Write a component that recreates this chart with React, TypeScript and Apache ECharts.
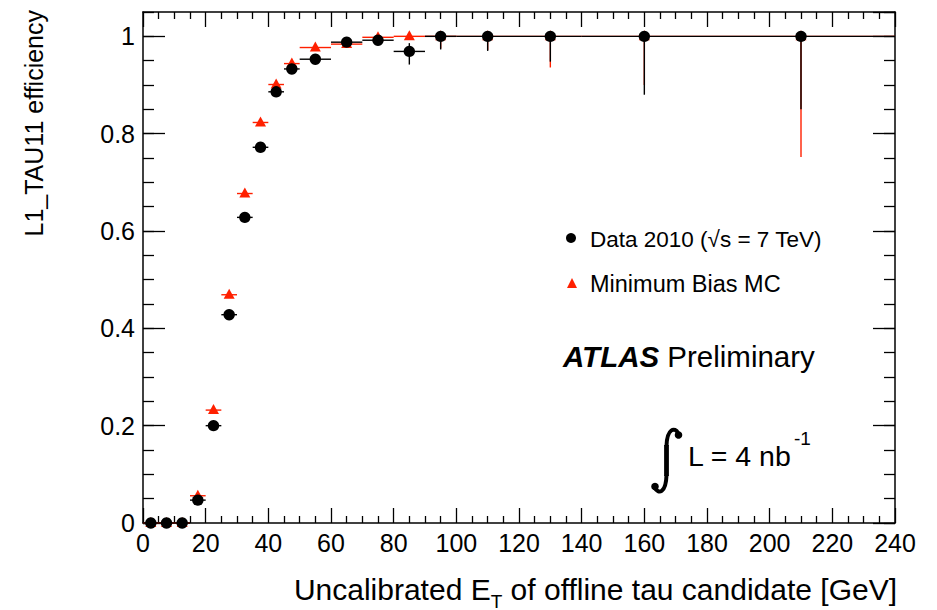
import React, { useEffect, useRef } from "react";
import * as echarts from "echarts";

// Bin edges (GeV)
const binLow = [0, 5, 10, 15, 20, 25, 30, 35, 40, 45, 50, 60, 70, 80, 90, 100, 120, 140, 180];
const binHigh = [5, 10, 15, 20, 25, 30, 35, 40, 45, 50, 60, 70, 80, 90, 100, 120, 140, 180, 240];

// Data 2010
const dataEff = [0, 0, 0, 0.047, 0.2, 0.428, 0.628, 0.772, 0.886, 0.933, 0.953, 0.988, 0.992, 0.969, 1, 1, 1, 1, 1];
const dataErrLow = [0, 0, 0, 0.008, 0.008, 0.01, 0.01, 0.009, 0.008, 0.007, 0.007, 0.005, 0.01, 0.027, 0.027, 0.03, 0.052, 0.12, 0.15];
const dataErrHigh = [0, 0, 0, 0.008, 0.008, 0.01, 0.01, 0.008, 0.007, 0.006, 0.006, 0.004, 0.006, 0.017, 0, 0, 0, 0, 0];

// Minimum Bias MC
const mcEff = [0, 0, 0, 0.056, 0.232, 0.469, 0.677, 0.823, 0.901, 0.944, 0.977, 0.984, 0.998, 1, 1, 1, 1, 1, 1];
const mcErrLow = [0, 0, 0, 0.005, 0.005, 0.005, 0.005, 0.005, 0.004, 0.004, 0.004, 0.004, 0.003, 0.003, 0.025, 0.028, 0.064, 0.1, 0.248];
const mcErrHigh = [0, 0, 0, 0.005, 0.005, 0.005, 0.005, 0.005, 0.004, 0.004, 0.004, 0.004, 0.002, 0, 0, 0, 0, 0, 0];

const xMin = 0;
const xMax = 240;
const xStep = 20;
const yMin = 0;
const yMax = 1.05;
const yStep = 0.2;
const yMinorStep = 0.05;

const RED = "#ff2000";
const BLACK = "#000000";
const FONT = "Liberation Sans";

function buildRows(eff: number[], lo: number[], hi: number[]) {
  return binLow.map((l, i) => [
    (l + binHigh[i]) / 2,
    eff[i],
    l,
    binHigh[i],
    eff[i] - lo[i],
    eff[i] + hi[i],
  ]);
}

function makeRender(kind: "circle" | "triangle", color: string) {
  return (_params: any, api: any) => {
    const x = api.value(0);
    const y = api.value(1);
    const c = api.coord([x, y]);
    const pLo = api.coord([api.value(2), y]);
    const pHi = api.coord([api.value(3), y]);
    const pYlo = api.coord([x, api.value(4)]);
    const pYhi = api.coord([x, api.value(5)]);
    const children: any[] = [
      {
        type: "line",
        shape: { x1: pLo[0], y1: c[1], x2: pHi[0], y2: c[1] },
        style: { stroke: color, lineWidth: 1.4 },
      },
    ];
    if (pYlo[1] - pYhi[1] > 0.5) {
      children.push({
        type: "line",
        shape: { x1: c[0], y1: pYlo[1], x2: c[0], y2: pYhi[1] },
        style: { stroke: color, lineWidth: 1.4 },
      });
    }
    if (kind === "circle") {
      children.push({ type: "circle", shape: { cx: c[0], cy: c[1], r: 5.7 }, style: { fill: color } });
    } else {
      children.push({
        type: "polygon",
        shape: { points: [[c[0], c[1] - 6], [c[0] - 5.5, c[1] + 4], [c[0] + 5.5, c[1] + 4]] },
        style: { fill: color },
      });
    }
    return { type: "group", children };
  };
}

function measure(text: string, size: number): number {
  const cv = document.createElement("canvas");
  const ctx = cv.getContext("2d");
  if (!ctx) return text.length * size * 0.5;
  ctx.font = `${size}px "${FONT}"`;
  return ctx.measureText(text).width;
}

const lineStyle = { color: "#000", width: 1.5 };
const tickStyle = { color: "#000", width: 1.3 };

export default function App() {
  const ref = useRef<HTMLDivElement>(null);
  useEffect(() => {
    if (!ref.current) return;
    const chart = echarts.init(ref.current, undefined, { renderer: "svg" });
    const baseX = {
      type: "value",
      min: xMin,
      max: xMax,
      interval: xStep,
      splitLine: { show: false },
      axisLine: { show: true, onZero: false, lineStyle },
      axisTick: { show: true, inside: true, length: 15, lineStyle: tickStyle },
      minorTick: { show: true, splitNumber: 4, length: 7, lineStyle: tickStyle },
    };
    const yMajor = (position: string, labels: boolean) => ({
      type: "value",
      position,
      min: yMin,
      max: yMax,
      interval: yStep,
      splitLine: { show: false },
      axisLine: { show: true, onZero: false, lineStyle },
      axisTick: { show: true, inside: true, length: 22, lineStyle: tickStyle },
      axisLabel: labels
        ? {
            show: true,
            showMaxLabel: false,
            fontSize: 25,
            color: "#000",
            fontFamily: FONT,
            margin: 8,
            formatter: (v: number) => (v === 0 ? "0" : Math.abs(v - 1) < 1e-9 ? "1" : v.toFixed(1)),
          }
        : { show: false },
    });
    const yMinor = (position: string) => ({
      type: "value",
      position,
      min: yMin,
      max: yMax,
      interval: yMinorStep,
      splitLine: { show: false },
      axisLine: { show: false, onZero: false },
      axisTick: { show: true, inside: true, length: 11, lineStyle: tickStyle },
      axisLabel: { show: false },
    });

    // x-axis title pieces, right aligned at the axis end
    const titleMain = 30;
    const titleSub = 19;
    const tail = " of offline tau candidate [GeV]";
    const wTail = measure(tail, titleMain);
    const wSub = measure("T", titleSub);
    const xEnd = 897;
    const titleY = 589;

    chart.setOption({
      animation: false,
      textStyle: { fontFamily: FONT },
      grid: { left: 143, right: 42, top: 12, bottom: 87, containLabel: false },
      xAxis: [
        {
          ...baseX,
          position: "bottom",
          axisLabel: { show: true, fontSize: 25, color: "#000", fontFamily: FONT, margin: 7 },
        },
        { ...baseX, position: "top", axisLabel: { show: false } },
      ],
      yAxis: [yMajor("left", true), yMinor("left"), yMajor("right", false), yMinor("right")],
      series: [
        {
          type: "custom",
          name: "Minimum Bias MC",
          xAxisIndex: 0,
          yAxisIndex: 0,
          renderItem: makeRender("triangle", RED),
          data: buildRows(mcEff, mcErrLow, mcErrHigh),
          clip: false,
          z: 2,
        },
        {
          type: "custom",
          name: "Data 2010",
          xAxisIndex: 0,
          yAxisIndex: 0,
          renderItem: makeRender("circle", BLACK),
          data: buildRows(dataEff, dataErrLow, dataErrHigh),
          clip: false,
          z: 3,
        },
      ],
      graphic: [
        {
          type: "text",
          x: 34,
          y: 10,
          rotation: Math.PI / 2,
          style: {
            text: "L1_TAU11 efficiency",
            fontSize: 25,
            fontFamily: FONT,
            fill: "#000",
            textAlign: "right",
            textVerticalAlign: "middle",
          },
        },
        {
          type: "text",
          x: xEnd,
          y: titleY,
          style: {
            text: tail,
            fontSize: titleMain,
            fontFamily: FONT,
            fill: "#000",
            textAlign: "right",
            textVerticalAlign: "middle",
          },
        },
        {
          type: "text",
          x: xEnd - wTail,
          y: titleY + 12,
          style: {
            text: "T",
            fontSize: titleSub,
            fontFamily: FONT,
            fill: "#000",
            textAlign: "right",
            textVerticalAlign: "middle",
          },
        },
        {
          type: "text",
          x: xEnd - wTail - wSub,
          y: titleY,
          style: {
            text: "Uncalibrated E",
            fontSize: titleMain,
            fontFamily: FONT,
            fill: "#000",
            textAlign: "right",
            textVerticalAlign: "middle",
          },
        },
        // legend
        { type: "circle", shape: { cx: 571, cy: 238, r: 5 }, style: { fill: BLACK } },
        {
          type: "text",
          x: 590,
          y: 239,
          style: {
            text: "Data 2010 (√s = 7 TeV)",
            fontSize: 22.5,
            fontFamily: FONT,
            fill: "#000",
            textAlign: "left",
            textVerticalAlign: "middle",
          },
        },
        {
          type: "polygon",
          shape: { points: [[572, 278], [567, 288], [577, 288]] },
          style: { fill: RED },
        },
        {
          type: "text",
          x: 590,
          y: 284,
          style: {
            text: "Minimum Bias MC",
            fontSize: 23.5,
            fontFamily: FONT,
            fill: "#000",
            textAlign: "left",
            textVerticalAlign: "middle",
          },
        },
        {
          type: "text",
          x: 563,
          y: 356,
          style: {
            text: "{b|ATLAS}{n| Preliminary}",
            fontFamily: FONT,
            fill: "#000",
            textAlign: "left",
            textVerticalAlign: "middle",
            rich: {
              b: { fontSize: 29.5, fontWeight: "bold", fontStyle: "italic", fontFamily: FONT, fill: "#000" },
              n: { fontSize: 29.5, fontFamily: FONT, fill: "#000" },
            },
          },
        },
        // integral sign
        {
          type: "group",
          x: 651,
          y: 428,
          children: [
            {
              type: "bezierCurve",
              shape: { x1: 27, y1: 5, cpx1: 24, cpy1: -1, cpx2: 16, cpy2: 0, x2: 15.5, y2: 18 },
              style: { stroke: "#000", lineWidth: 4, fill: null },
            },
            {
              type: "line",
              shape: { x1: 15.5, y1: 17, x2: 15.5, y2: 48 },
              style: { stroke: "#000", lineWidth: 4.8 },
            },
            {
              type: "bezierCurve",
              shape: { x1: 15.5, y1: 47, cpx1: 15, cpy1: 66, cpx2: 7, cpy2: 66, x2: 4, y2: 60 },
              style: { stroke: "#000", lineWidth: 4, fill: null },
            },
            { type: "circle", shape: { cx: 27.5, cy: 7, r: 3.8 }, style: { fill: "#000" } },
            { type: "circle", shape: { cx: 4, cy: 58.5, r: 3.8 }, style: { fill: "#000" } },
          ],
        },
        {
          type: "text",
          x: 688,
          y: 456,
          style: {
            text: "L = 4 nb",
            fontSize: 28.5,
            fontFamily: FONT,
            fill: "#000",
            textAlign: "left",
            textVerticalAlign: "middle",
          },
        },
        {
          type: "text",
          x: 794,
          y: 438,
          style: {
            text: "-1",
            fontSize: 19,
            fontFamily: FONT,
            fill: "#000",
            textAlign: "left",
            textVerticalAlign: "middle",
          },
        },
      ],
    });
    return () => chart.dispose();
  }, []);
  return (
    <div
      ref={ref}
      style={{ position: "fixed", left: 0, top: 0, width: 937, height: 610, background: "#fff" }}
    />
  );
}
